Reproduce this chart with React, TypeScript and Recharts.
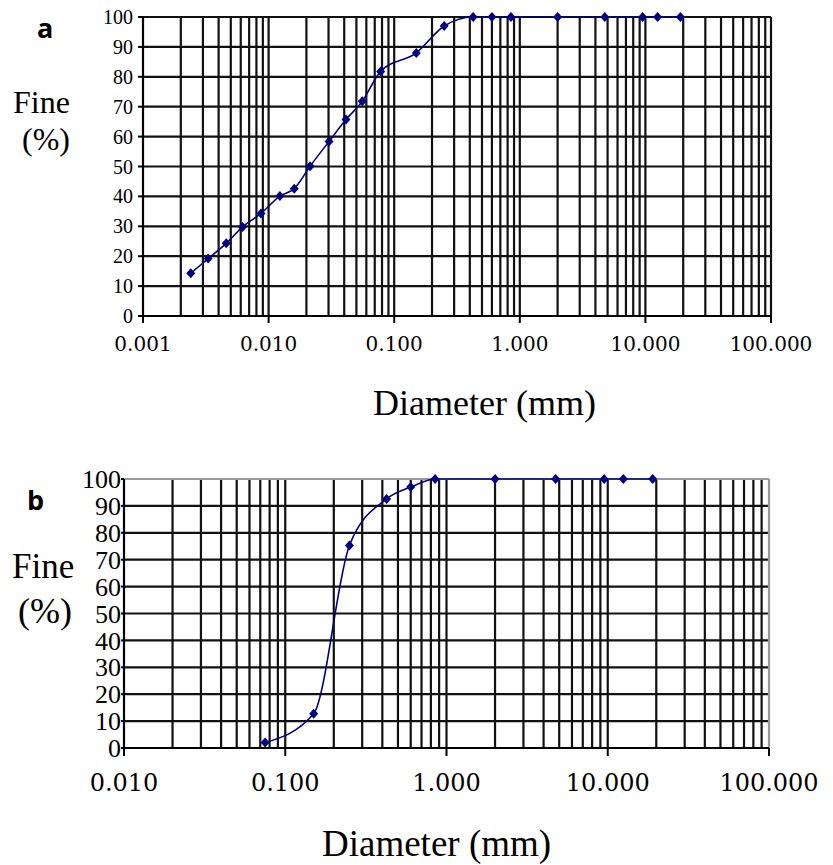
import React from "react";
import {
  LineChart,
  Line,
  XAxis,
  YAxis,
  CartesianGrid,
  ReferenceLine,
} from "recharts";

// chart a: fine soil (hydrometer + sieve)
const fineDiam = [
  0.0024, 0.0033, 0.0046, 0.0062, 0.0087, 0.0123, 0.016, 0.0214, 0.0303,
  0.0413, 0.0557, 0.078, 0.15, 0.25, 0.425, 0.6, 0.85, 2, 4.75, 9.5, 12.5, 19,
];
const finePct = [
  14.3, 19.2, 24.3, 29.8, 34.3, 40.1, 42.6, 50.1, 58.4, 65.7, 71.8, 81.8, 88,
  97, 100, 100, 100, 100, 100, 100, 100, 100,
];

// chart b: sand (sieve only)
const sandDiam = [0.075, 0.15, 0.25, 0.425, 0.6, 0.85, 2, 4.75, 9.5, 12.5, 19];
const sandPct = [2, 12.7, 75.3, 92.6, 97, 100, 100, 100, 100, 100, 100];

const topDecades = [0.001, 0.01, 0.1, 1, 10, 100];
const bottomDecades = [0.01, 0.1, 1, 10, 100];
const gridSteps = [1, 2, 3, 4, 5, 6, 7, 8, 9];
const pctTicks = [0, 10, 20, 30, 40, 50, 60, 70, 80, 90, 100];

const NAVY = "#000080";
const GRID = "#111";

const makeGrid = (decades: number[]) =>
  decades
    .slice(0, -1)
    .flatMap((d) => gridSteps.map((m) => +(d * m).toPrecision(3)))
    .concat(decades[decades.length - 1]);

const topData = fineDiam.map((d, i) => ({ d, p: finePct[i] }));
const bottomData = sandDiam.map((d, i) => ({ d, p: sandPct[i] }));

const diamond = (props: any) => {
  const { cx, cy, index } = props;
  if (cx == null || cy == null) return <g key={`dm-${index}`} />;
  return (
    <path
      key={`dm-${index}`}
      d={`M${cx},${cy - 5}L${cx + 4.5},${cy}L${cx},${cy + 5}L${cx - 4.5},${cy}Z`}
      fill={NAVY}
    />
  );
};

const fmt = (v: number) => v.toFixed(3);

const serif = "Liberation Serif";
const wideSerif = "DejaVu Serif";

const xTick = (size: number) => (props: any) => {
  const { x, y, payload } = props;
  return (
    <text
      x={x}
      y={y}
      dy="0.71em"
      textAnchor="middle"
      fill="#000"
      fontFamily={wideSerif}
      fontSize={size}
    >
      {fmt(payload.value)}
    </text>
  );
};

const yTick = (size: number) => (props: any) => {
  const { x, y, payload } = props;
  return (
    <text
      x={x}
      y={y}
      dy="0.35em"
      textAnchor="end"
      fill="#000"
      fontFamily={serif}
      fontSize={size}
    >
      {payload.value}
    </text>
  );
};

export default function App() {
  const topGrid = makeGrid(topDecades);
  const bottomGrid = makeGrid(bottomDecades);

  return (
    <div
      style={{
        position: "absolute",
        left: 0,
        top: 0,
        width: 833,
        height: 865,
        background: "#fff",
        overflow: "hidden",
      }}
    >
      {/* chart a */}
      <div style={{ position: "absolute", left: 0, top: 0 }}>
        <LineChart
          width={833}
          height={430}
          data={topData}
          margin={{ top: 17, right: 62, bottom: 74, left: 0 }}
        >
          <CartesianGrid vertical={false} stroke={GRID} strokeWidth={2.2} />
          {topGrid.map((v) => (
            <ReferenceLine key={`tg-${v}`} x={v} stroke={GRID} strokeWidth={2.2} />
          ))}
          <ReferenceLine y={100} stroke={GRID} strokeWidth={2.2} />
          <XAxis
            dataKey="d"
            type="number"
            scale="log"
            domain={[0.001, 100]}
            allowDataOverflow
            ticks={topDecades}
            interval={0}
            height={40}
            stroke="#000"
            strokeWidth={2}
            tickSize={7}
            tickMargin={14}
            tick={xTick(20)}
          />
          <YAxis
            dataKey="p"
            type="number"
            domain={[0, 100]}
            ticks={pctTicks}
            interval={0}
            width={143}
            stroke="#000"
            strokeWidth={2}
            tickSize={5}
            tickMargin={5}
            tick={yTick(20)}
          />
          <Line
            dataKey="p"
            type="monotone"
            stroke={NAVY}
            strokeWidth={1.6}
            dot={diamond}
            activeDot={false}
            isAnimationActive={false}
          />
        </LineChart>
      </div>

      {/* chart b */}
      <div style={{ position: "absolute", left: 0, top: 440 }}>
        <LineChart
          width={833}
          height={425}
          data={bottomData}
          margin={{ top: 39, right: 64, bottom: 77, left: 0 }}
        >
          <CartesianGrid vertical={false} stroke={GRID} strokeWidth={2.2} />
          {bottomGrid.map((v) => (
            <ReferenceLine
              key={`bg-${v}`}
              x={v}
              stroke={v === 100 ? "#999" : GRID}
              strokeWidth={2.2}
            />
          ))}
          <ReferenceLine y={100} stroke="#999" strokeWidth={2.2} />
          <XAxis
            dataKey="d"
            type="number"
            scale="log"
            domain={[0.01, 100]}
            allowDataOverflow
            ticks={bottomDecades}
            interval={0}
            height={40}
            stroke="#000"
            strokeWidth={2}
            tickSize={8}
            tickMargin={18}
            tick={xTick(24)}
          />
          <YAxis
            dataKey="p"
            type="number"
            domain={[0, 100]}
            ticks={pctTicks}
            interval={0}
            width={124}
            stroke="#000"
            strokeWidth={2}
            tickSize={3}
            tickMargin={0}
            tick={yTick(26)}
          />
          <Line
            dataKey="p"
            type="monotone"
            stroke={NAVY}
            strokeWidth={1.6}
            dot={diamond}
            activeDot={false}
            isAnimationActive={false}
          />
        </LineChart>
      </div>

      {/* labels */}
      <svg
        width={833}
        height={865}
        style={{ position: "absolute", left: 0, top: 0, pointerEvents: "none" }}
      >
        <g fontFamily="Open Sans" fontWeight="bold" fontSize={27} fill="#000">
          <text x={37} y={38}>a</text>
          <text x={27} y={510}>b</text>
        </g>
        <g fontFamily={serif} fill="#000">
          <text x={13} y={113} fontSize={32}>Fine</text>
          <text x={22} y={150} fontSize={32}>(%)</text>
          <text x={12} y={578} fontSize={35}>Fine</text>
          <text x={18} y={623} fontSize={36}>(%)</text>
          <text x={373} y={415} fontSize={36}>Diameter (mm)</text>
          <text x={322} y={856} fontSize={37}>Diameter (mm)</text>
        </g>
      </svg>
    </div>
  );
}
